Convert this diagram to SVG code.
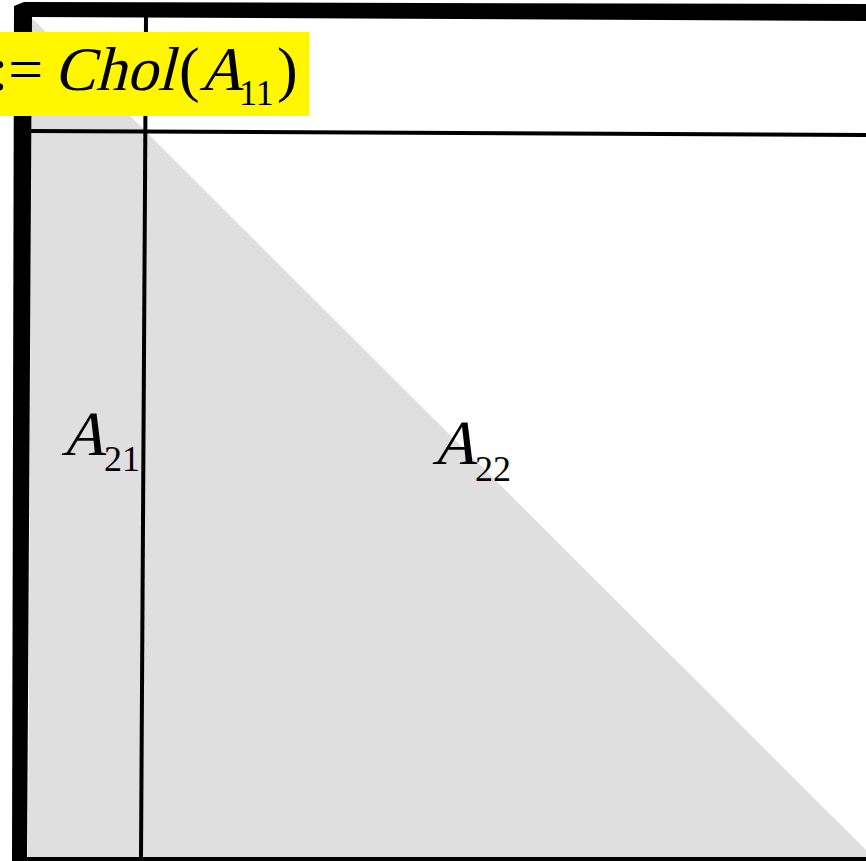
<svg xmlns="http://www.w3.org/2000/svg" width="866" height="861" viewBox="0 0 866 861">
<style>
text{font-family:"Liberation Serif","Times New Roman","DejaVu Serif",serif;fill:#000}
.b{fill:#000}
</style>
<rect width="866" height="861" fill="#fff"/>
<g id="shade">
<polygon points="32,18 877,861 28,861" fill="#dfdfdf"/>
</g>
<g id="connectors">
<line x1="146" y1="17" x2="141" y2="858" stroke="#000" stroke-width="4"/>
<line x1="30" y1="131" x2="866" y2="135" stroke="#000" stroke-width="4"/>
</g>
<g id="frame">
<polygon class="b" points="24,2 866,4 866,21 32,17"/>
<polygon class="b" points="14,6 24,2 32,2 32,17 27,861 12,861"/>
<rect class="b" x="12" y="857" width="854" height="4"/>
</g>
<g id="label-A11">
<rect x="0" y="32" width="309" height="84" fill="#fff600"/>
<text x="-9" y="90" font-size="62">:=</text>
<text transform="translate(54,90) skewX(-14)" font-size="62">Chol</text>
<text x="179" y="90" font-size="62">(</text>
<text transform="translate(199,90) skewX(-14)" font-size="62">A</text>
<text x="239" y="105" font-size="36">11</text>
<text x="277" y="90" font-size="62">)</text>
</g>
<g id="label-A21">
<text transform="translate(61,455) skewX(-14)" font-size="63">A</text>
<text x="104" y="471" font-size="36">21</text>
</g>
<g id="label-A22">
<text transform="translate(432,464) skewX(-14)" font-size="63">A</text>
<text x="475" y="481" font-size="36">22</text>
</g>
</svg>
